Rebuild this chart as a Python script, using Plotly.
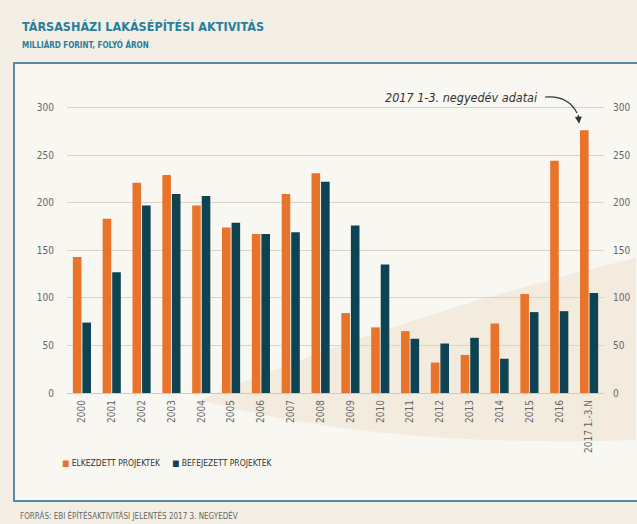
import plotly.graph_objects as go

categories = ["2000", "2001", "2002", "2003", "2004", "2005", "2006", "2007", "2008",
              "2009", "2010", "2011", "2012", "2013", "2014", "2015", "2016", "2017 1.-3.N"]
elkezdett = [143, 183, 221, 229, 197, 174, 167, 209, 231, 84, 69, 65, 32, 40, 73, 104, 244, 276]
befejezett = [74, 127, 197, 209, 207, 179, 167, 169, 222, 176, 135, 57, 52, 58, 36, 85, 86, 105]
yticks = [0, 50, 100, 150, 200, 250, 300]
series_names = ["ELKEZDETT PROJEKTEK", "BEFEJEZETT PROJEKTEK"]

FONT = "Liberation Sans Narrow, DejaVu Sans Condensed, Arial Narrow, sans-serif"
ORANGE = "#e8732a"
NAVY = "#0d4352"
TEAL = "#2a7d9c"

W, H = 637, 524
L, R, T, B = 67, 33, 98, 131
PW, PH = W - L - R, H - T - B

def px(x):
    return (x - L) / PW

def py(y):
    return (H - B - y) / PH

fig = go.Figure()
fig.add_trace(go.Bar(x=categories, y=elkezdett, name=series_names[0],
                     marker=dict(color=ORANGE, line=dict(width=0))))
fig.add_trace(go.Bar(x=categories, y=befejezett, name=series_names[1],
                     marker=dict(color=NAVY, line=dict(width=0))))
# invisible trace for right axis
fig.add_trace(go.Scatter(x=categories, y=elkezdett, yaxis="y2", mode="none",
                         showlegend=False, hoverinfo="skip"))

shapes = [
    # outer box
    dict(type="rect", xref="paper", yref="paper", x0=px(14), x1=px(645), y0=py(501), y1=py(63),
         fillcolor="#f9f7f1", line=dict(color="#5a8aa0", width=2), layer="below"),
    # tan wash
    dict(type="path", xref="paper", yref="paper",
         path=f"M {px(200)} {py(400)} C {px(330)} {py(345)}, {px(480)} {py(295)}, {px(636)} {py(258)} "
              f"L {px(636)} {py(440)} C {px(480)} {py(445)}, {px(330)} {py(435)}, {px(200)} {py(400)} Z",
         fillcolor="rgba(226,208,178,0.30)", line=dict(width=0), layer="below"),
    # annotation curve
    dict(type="path", xref="paper", yref="paper",
         path=f"M {px(545)} {py(97)} Q {px(568)} {py(95)}, {px(577)} {py(113)}",
         line=dict(color="#333333", width=1.2)),
]

annotations = [
    dict(text="<b>TÁRSASHÁZI LAKÁSÉPÍTÉSI AKTIVITÁS</b>", xref="paper", yref="paper",
         x=px(20), y=py(26), xanchor="left", yanchor="middle", showarrow=False,
         font=dict(family=FONT, size=12.5, color=TEAL)),
    dict(text="<b>MILLIÁRD FORINT, FOLYÓ ÁRON</b>", xref="paper", yref="paper",
         x=px(20), y=py(45), xanchor="left", yanchor="middle", showarrow=False,
         font=dict(family=FONT, size=8, color=TEAL)),
    dict(text="FORRÁS: EBI ÉPÍTÉSAKTIVITÁSI JELENTÉS 2017 3. NEGYEDÉV", xref="paper", yref="paper",
         x=px(18), y=py(515), xanchor="left", yanchor="middle", showarrow=False,
         font=dict(family=FONT, size=8, color="#666666")),
    dict(text=f"<span style='color:{ORANGE}'>■</span> {series_names[0]}", xref="paper", yref="paper",
         x=px(60), y=py(463), xanchor="left", yanchor="middle", showarrow=False,
         font=dict(family=FONT, size=8.5, color="#333333")),
    dict(text=f"<span style='color:{NAVY}'>■</span> {series_names[1]}", xref="paper", yref="paper",
         x=px(170), y=py(463), xanchor="left", yanchor="middle", showarrow=False,
         font=dict(family=FONT, size=8.5, color="#333333")),
    dict(text="<i>2017 1-3. negyedév adatai</i>", xref="paper", yref="paper",
         x=px(540), y=py(97), xanchor="right", yanchor="middle", showarrow=False,
         font=dict(family="DejaVu Sans Condensed, DejaVu Sans, sans-serif", size=12.5, color="#333333")),
    dict(x=categories[-1], y=283, xref="x", yref="y", ax=-1, ay=-10, axref="pixel", ayref="pixel",
         text="", showarrow=True, arrowhead=2, arrowsize=1, arrowwidth=1.4, arrowcolor="#333333",
         xshift=-10),
]

fig.update_layout(
    width=W, height=H,
    margin=dict(l=L, r=R, t=T, b=B, autoexpand=False),
    paper_bgcolor="#f4efe4",
    plot_bgcolor="rgba(0,0,0,0)",
    barmode="group", bargap=0.36, bargroupgap=0.1,
    font=dict(family=FONT, color="#666666"),
    showlegend=False,
    xaxis=dict(type="category", tickangle=-90, tickfont=dict(size=10, color="#666666"),
               showgrid=False, showline=False, ticks="", ticklabelstandoff=4, automargin=False),
    yaxis=dict(range=[0, 310], tickvals=yticks, showgrid=True, gridcolor="#d9d4ca", gridwidth=1,
               zeroline=True, zerolinecolor="#d0cbc0", zerolinewidth=1,
               tickfont=dict(size=10, color="#666666"), ticks="", ticklabelstandoff=12,
               automargin=False),
    yaxis2=dict(range=[0, 310], tickvals=yticks, overlaying="y", side="right", showgrid=False,
                zeroline=False, tickfont=dict(size=10, color="#666666"), ticks="",
                ticklabelstandoff=8, automargin=False),
    shapes=shapes,
    annotations=annotations,
)

fig.write_html("out.html", config={"displayModeBar": False},
               post_script="document.body.style.margin='0';document.body.style.background='#f4efe4';")
